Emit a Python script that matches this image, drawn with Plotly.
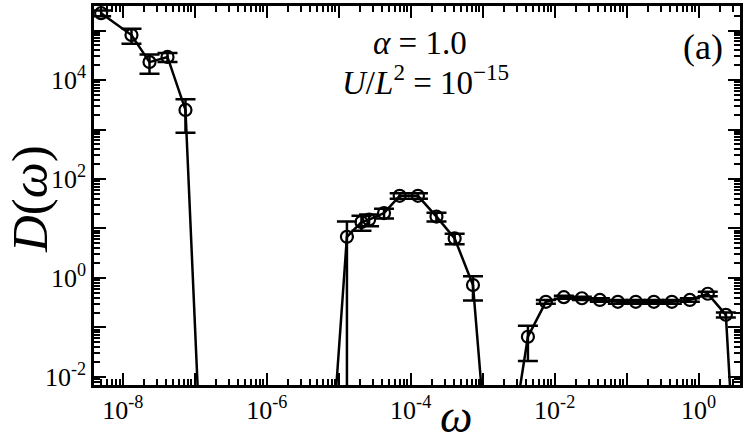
import plotly.graph_objects as go

# omega values (log-binned), D(omega) and symmetric error bars
omega = [5.0e-9, 1.32e-8, 2.35e-8, 4.18e-8, 7.43e-8, 1.32e-7,
         7.33e-6, 1.30e-5, 2.07e-5, 2.64e-5, 4.26e-5, 7.03e-5, 1.26e-4, 2.28e-4, 4.08e-4, 7.33e-4, 1.30e-3,
         2.39e-3, 4.25e-3, 7.55e-3, 1.34e-2, 2.39e-2, 4.25e-2, 7.55e-2, 0.134, 0.239, 0.425, 0.755, 1.34, 2.39, 4.25]
D = [2.24e5, 8.1e4, 2.3e4, 2.92e4, 2.48e3, 1.35e-5,
     5.6e-5, 6.8, 13.5, 15.1, 20.5, 45.7, 45.7, 17.4, 6.3, 0.72, 2.95e-5,
     3.1e-4, 0.065, 0.33, 0.41, 0.39, 0.36, 0.33, 0.33, 0.33, 0.33, 0.36, 0.48, 0.18, 1e-7]
D_err = [3.0e4, 2.7e4, 0.96e4, 0.6e4, 1.62e3, 0,
         0, 7.0, 4.5, 4.0, 4.5, 6.0, 6.0, 3.5, 1.5, 0.37, 0,
         0, 0.044, 0.03, 0.03, 0.03, 0.03, 0.03, 0.03, 0.03, 0.03, 0.03, 0.05, 0.02, 0]

x_tickvals = [1e-8, 1e-7, 1e-6, 1e-5, 1e-4, 1e-3, 1e-2, 1e-1, 1e0]
x_ticktext = ["10<sup>-8</sup>", "", "10<sup>-6</sup>", "", "10<sup>-4</sup>", "",
              "10<sup>-2</sup>", "", "10<sup>0</sup>"]
y_tickvals = [1e-2, 1e-1, 1e0, 1e1, 1e2, 1e3, 1e4, 1e5]
y_ticktext = ["10<sup>-2</sup>", "", "10<sup>0</sup>", "", "10<sup>2</sup>", "",
              "10<sup>4</sup>", ""]

minor_x = [m * 10.0 ** k for k in range(-9, 1) for m in range(2, 10)]
minor_y = [m * 10.0 ** k for k in range(-3, 6) for m in range(2, 10)]

fig = go.Figure()
fig.add_trace(go.Scatter(
    x=omega, y=D, mode="lines+markers",
    line=dict(color="black", width=2.5),
    marker=dict(symbol="circle-open", size=12, color="black", line=dict(width=2.2, color="black")),
    error_y=dict(type="data", array=D_err, visible=True, color="black", thickness=2.5, width=10),
    showlegend=False,
))

font_family = "Liberation Serif"

fig.update_xaxes(
    type="log", range=[-8.40, 0.575], automargin=False,
    tickvals=x_tickvals, ticktext=x_ticktext,
    ticks="inside", ticklen=12, tickwidth=2, tickcolor="black",
    minor=dict(ticks="inside", ticklen=6, tickwidth=1.5, tickcolor="black", tickvals=minor_x),
    showline=True, linecolor="black", linewidth=2.5, mirror="allticks",
    showgrid=False, zeroline=False,
    tickfont=dict(family=font_family, size=26, color="black"),
)
fig.update_yaxes(
    type="log", range=[-2.162, 5.495], automargin=False,
    tickvals=y_tickvals, ticktext=y_ticktext,
    ticks="inside", ticklen=12, tickwidth=2, tickcolor="black",
    minor=dict(ticks="inside", ticklen=6, tickwidth=1.5, tickcolor="black", tickvals=minor_y),
    showline=True, linecolor="black", linewidth=2.5, mirror="allticks",
    showgrid=False, zeroline=False,
    tickfont=dict(family=font_family, size=26, color="black"),
)

fig.add_annotation(text="<i>D</i>(<i>ω</i>)", xref="paper", yref="paper", x=-0.098, y=0.49,
                   textangle=-90, showarrow=False, xanchor="center", yanchor="middle",
                   font=dict(family=font_family, size=51, color="black"))
fig.add_annotation(text="<i>ω</i>", xref="paper", yref="paper", x=0.56, y=-0.155,
                   showarrow=False, xanchor="center", yanchor="bottom",
                   font=dict(family=font_family, size=46, color="black"))
fig.add_annotation(text="<i>α</i> = 1.0", xref="paper", yref="paper", x=0.505, y=0.902,
                   showarrow=False, xanchor="center", yanchor="middle",
                   font=dict(family=font_family, size=33, color="black"))
fig.add_annotation(text="<i>U</i>/<i>L</i><sup>2</sup> = 10<sup>−15</sup>", xref="paper", yref="paper",
                   x=0.513, y=0.805, showarrow=False, xanchor="center", yanchor="middle",
                   font=dict(family=font_family, size=33, color="black"))
fig.add_annotation(text="(a)", xref="paper", yref="paper", x=0.943, y=0.893,
                   showarrow=False, xanchor="center", yanchor="middle",
                   font=dict(family=font_family, size=36, color="black"))

fig.update_layout(
    width=747, height=445,
    margin=dict(l=94, r=7, t=6, b=60),
    paper_bgcolor="white", plot_bgcolor="white",
)

fig.write_html("out.html", config={"displayModeBar": False},
               post_script="document.body.style.margin='0';document.body.style.overflow='hidden';")
